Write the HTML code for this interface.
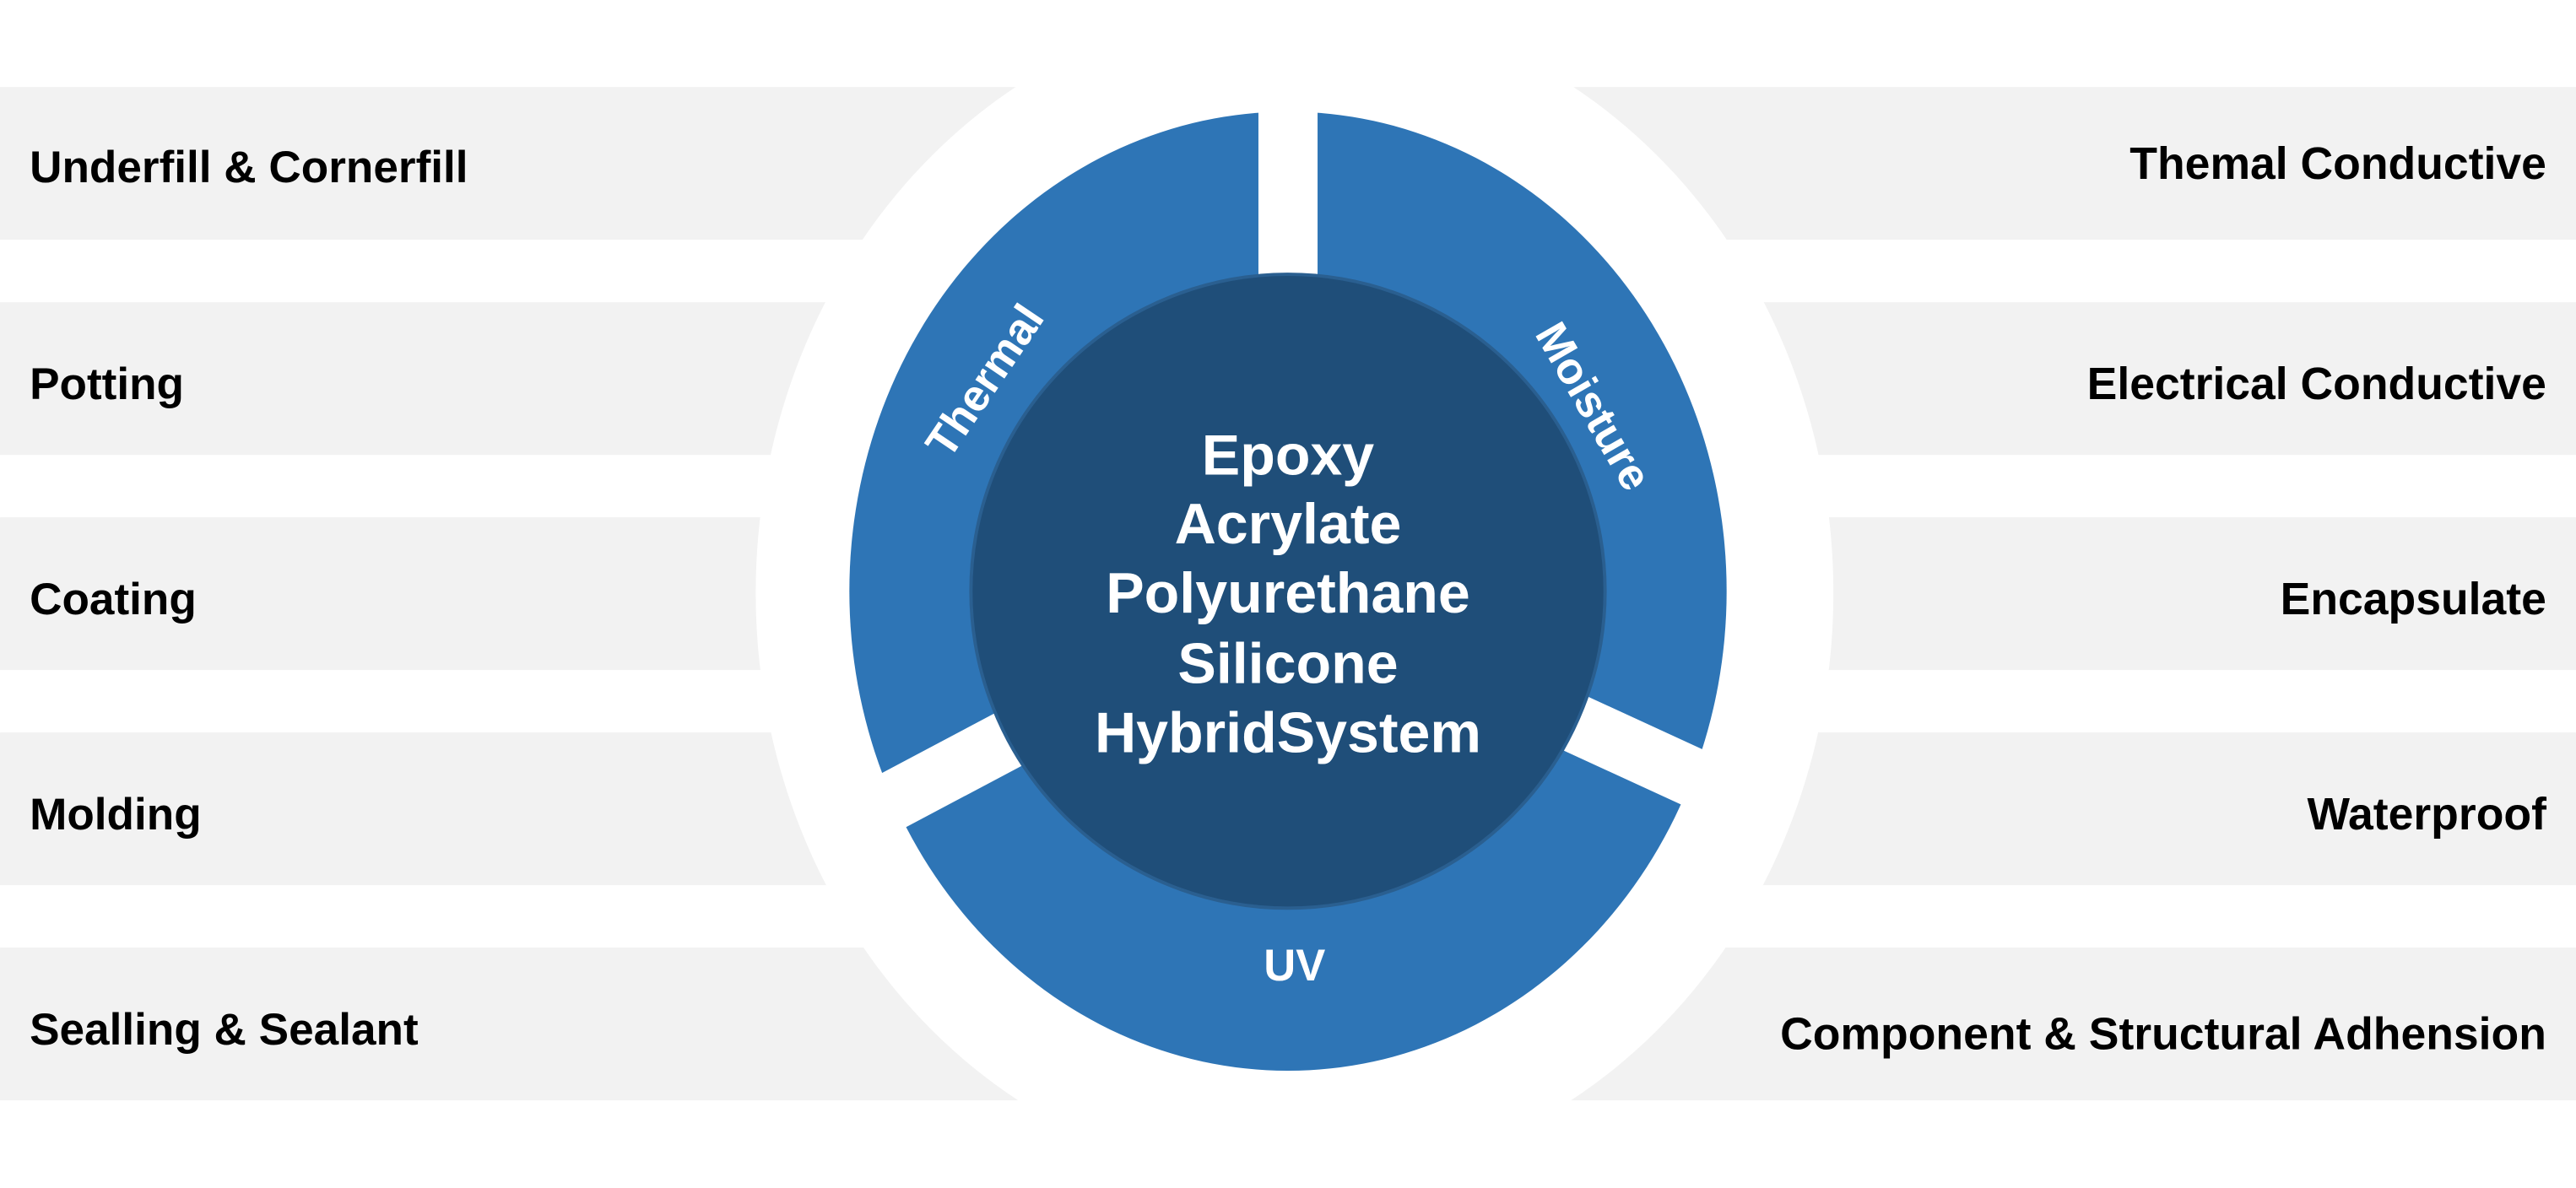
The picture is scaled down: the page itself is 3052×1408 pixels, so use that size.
<!DOCTYPE html>
<html><head><meta charset="utf-8"><style>
html,body{margin:0;padding:0;background:#fff;width:3052px;height:1408px;overflow:hidden}
svg{display:block}
text{font-family:"Liberation Sans",sans-serif;font-weight:bold}
</style></head><body>
<svg width="3052" height="1408" viewBox="0 0 1568 723.4" xmlns="http://www.w3.org/2000/svg">
<rect width="1568" height="723.4" fill="#fff"/>
<g fill="#f2f2f2">
<rect x="0" y="53" width="1568" height="93"/>
<rect x="0" y="184" width="1568" height="93"/>
<rect x="0" y="315" width="1568" height="93"/>
<rect x="0" y="446" width="1568" height="93"/>
<rect x="0" y="577" width="1568" height="93"/>
</g>
<ellipse cx="788" cy="361" rx="328" ry="360" fill="#fff"/>
<ellipse cx="784" cy="360" rx="267" ry="292" fill="#2e75b6"/>
<g stroke="#fff" stroke-width="36">
<line x1="784" y1="360" x2="784" y2="50"/>
<line x1="784" y1="360" x2="520" y2="500"/>
<line x1="784" y1="360" x2="1060" y2="487"/>
</g>
<circle cx="784" cy="360" r="193" fill="#1f4e79" stroke="#2a5f90" stroke-width="2"/>
<g fill="#fff" text-anchor="middle" font-size="35">
<text x="784" y="289">Epoxy</text>
<text x="784" y="331">Acrylate</text>
<text x="784" y="373">Polyurethane</text>
<text x="784" y="416">Silicone</text>
<text x="784" y="458">HybridSystem</text>
</g>
<g fill="#fff" text-anchor="middle" font-size="27">
<text x="0" y="0" transform="translate(607,237) rotate(-56)">Thermal</text>
<text x="0" y="0" transform="translate(962,252) rotate(60)">Moisture</text>
<text x="788" y="597">UV</text>
</g>
<g fill="#000" font-size="27.3">
<text x="18" y="111">Underfill &amp; Cornerfill</text>
<text x="18" y="243">Potting</text>
<text x="18" y="374">Coating</text>
<text x="18" y="505">Molding</text>
<text x="18" y="636">Sealling &amp; Sealant</text>
</g>
<g fill="#000" font-size="27.5" text-anchor="end">
<text x="1550" y="109">Themal Conductive</text>
<text x="1550" y="243">Electrical Conductive</text>
<text x="1550" y="374">Encapsulate</text>
<text x="1550" y="505">Waterproof</text>
<text x="1550" y="639">Component &amp; Structural Adhension</text>
</g>
</svg>
</body></html>
